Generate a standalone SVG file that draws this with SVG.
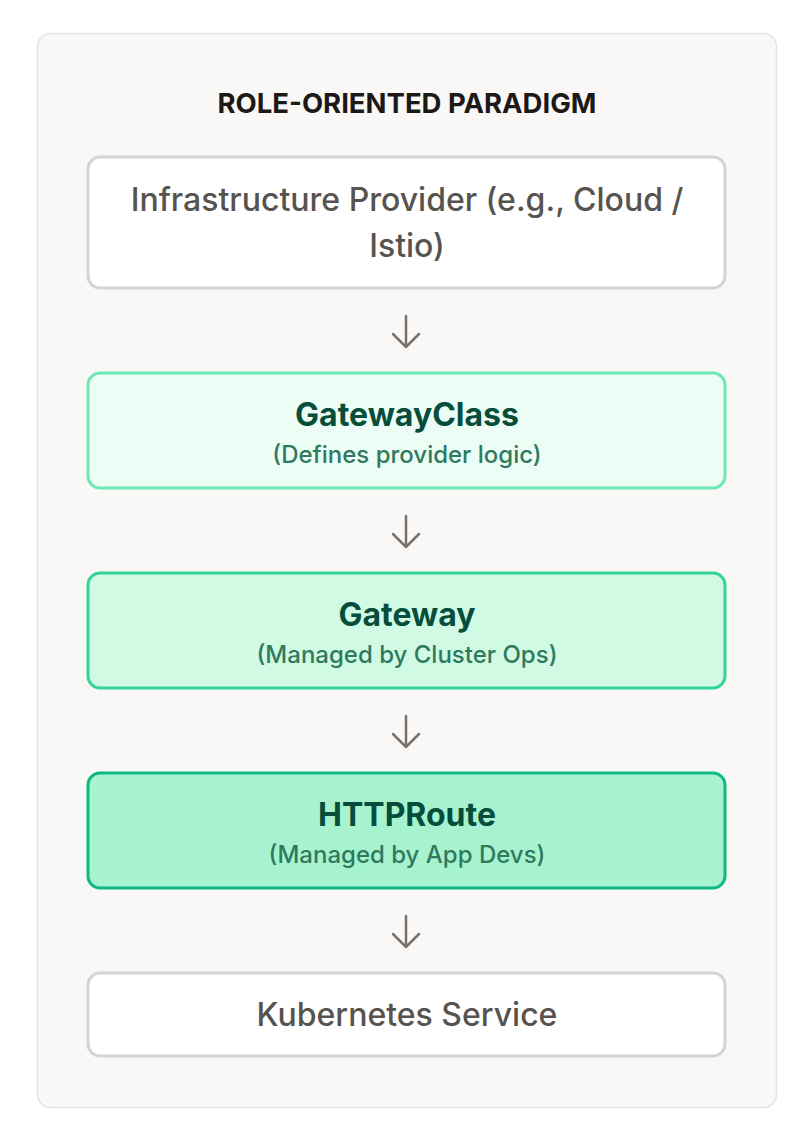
<svg xmlns="http://www.w3.org/2000/svg" width="802" height="1132" viewBox="0 0 802 1132">
<style>
.t{font-family:Inter,"Noto Sans",sans-serif;text-anchor:middle}
.title{font-size:27.5px;font-weight:700;fill:#1c1917}
.plain{font-size:32px;font-weight:500;fill:#57534e}
.head{font-size:32px;font-weight:700;fill:#064e3b}
.sub{font-size:24px;font-weight:500;fill:#2f7a5e}
.arr{stroke:#78716c;stroke-width:2.5;fill:none;stroke-linecap:round;stroke-linejoin:round}
</style>
<rect width="802" height="1132" fill="#ffffff"/>
<g id="panel">
<rect x="37.5" y="33.5" width="739" height="1074" rx="13" fill="#f9f8f6" stroke="#e5e4e2" stroke-width="1.5"/>
<text class="t title" x="407" y="113">ROLE-ORIENTED PARADIGM</text>
</g>
<g id="infra">
<rect x="88" y="157" width="637" height="131" rx="12" fill="#ffffff" stroke="#d6d3d1" stroke-width="3"/>
<text class="t plain" x="407" y="211">Infrastructure Provider (e.g., Cloud /</text>
<text class="t plain" x="407" y="257">Istio)</text>
</g>
<g id="gatewayclass">
<rect x="88" y="373" width="637" height="115" rx="12" fill="#ecfdf5" stroke="#6ee7b7" stroke-width="3"/>
<text class="t head" x="407" y="426">GatewayClass</text>
<text class="t sub" x="407" y="463">(Defines provider logic)</text>
</g>
<g id="gateway">
<rect x="88" y="573" width="637" height="115" rx="12" fill="#d1fae5" stroke="#34d399" stroke-width="3"/>
<text class="t head" x="407" y="626">Gateway</text>
<text class="t sub" x="407" y="663">(Managed by Cluster Ops)</text>
</g>
<g id="httproute">
<rect x="88" y="773" width="637" height="115" rx="12" fill="#a7f3d0" stroke="#10b981" stroke-width="3"/>
<text class="t head" x="407" y="826">HTTPRoute</text>
<text class="t sub" x="407" y="863">(Managed by App Devs)</text>
</g>
<g id="service">
<rect x="88" y="973" width="637" height="83" rx="12" fill="#ffffff" stroke="#d6d3d1" stroke-width="3"/>
<text class="t plain" x="407" y="1026">Kubernetes Service</text>
</g>
<g id="connectors">
<path class="arr" d="M406 316V347M393 334L406 347L419 334"/>
<path class="arr" d="M406 516V547M393 534L406 547L419 534"/>
<path class="arr" d="M406 716V747M393 734L406 747L419 734"/>
<path class="arr" d="M406 916V947M393 934L406 947L419 934"/>
</g>
</svg>
